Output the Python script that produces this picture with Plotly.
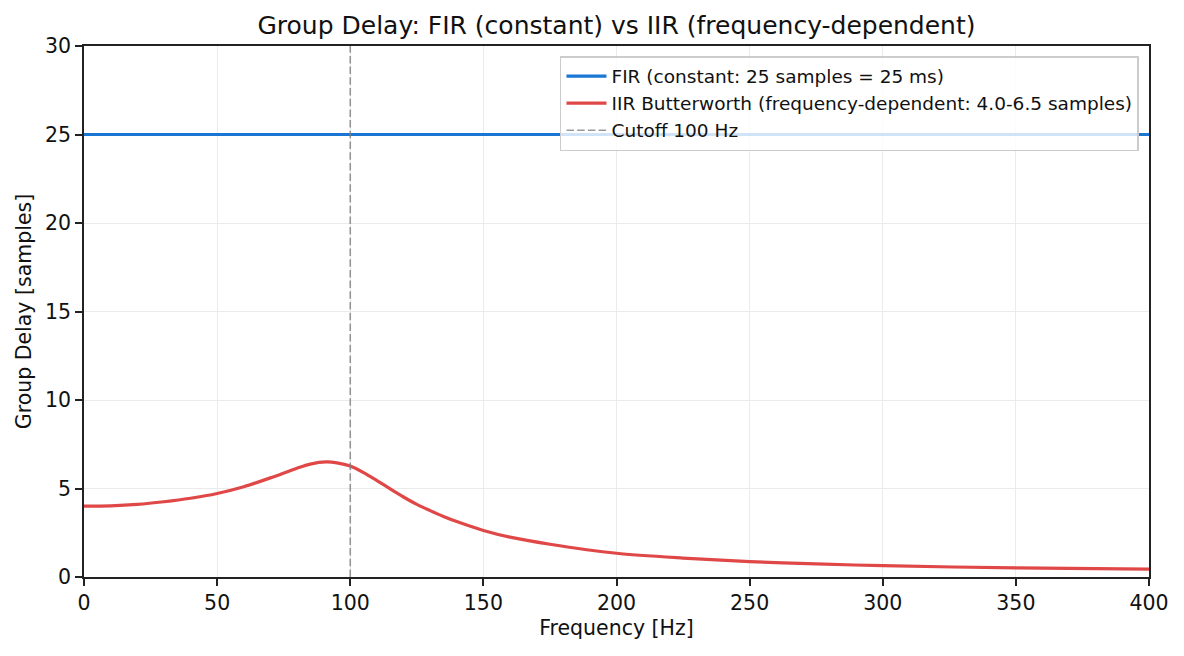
import plotly.graph_objects as go

# Data
freq_fir = [0, 400]
delay_fir = [25, 25]

freq_iir = [0, 10, 20, 30, 40, 50, 60, 70, 80, 85, 91, 95, 100, 105, 110, 115, 120, 125,
            130, 135, 140, 150, 160, 175, 200, 225, 250, 275, 300, 350, 400]
delay_iir = [4.0, 4.02, 4.1, 4.25, 4.45, 4.72, 5.1, 5.6, 6.15, 6.38, 6.5, 6.45, 6.27, 5.9,
             5.45, 4.98, 4.52, 4.1, 3.75, 3.42, 3.13, 2.63, 2.25, 1.85, 1.34, 1.07, 0.87,
             0.74, 0.64, 0.51, 0.45]

cutoff = 100
x_ticks = [0, 50, 100, 150, 200, 250, 300, 350, 400]
y_ticks = [0, 5, 10, 15, 20, 25, 30]

FONT = "DejaVu Sans"
TXT = "#111111"

fig = go.Figure()
fig.add_trace(go.Scatter(x=freq_fir, y=delay_fir, mode="lines",
                         line=dict(color="#1976D2", width=3.2),
                         name="FIR (constant: 25 samples = 25 ms)"))
fig.add_trace(go.Scatter(x=freq_iir, y=delay_iir, mode="lines",
                         line=dict(color="#E04848", width=3.2, shape="spline", smoothing=0.8),
                         name="IIR Butterworth (frequency-dependent: 4.0-6.5 samples)"))
fig.add_trace(go.Scatter(x=[cutoff, cutoff], y=[0, 30], mode="lines",
                         line=dict(color="rgba(128,128,128,0.8)", width=1.6, dash="7.5px,3.2px"),
                         name="Cutoff 100 Hz"))

axis_common = dict(showline=True, linecolor="#222222", linewidth=1.6, mirror=True,
                   ticks="outside", ticklen=7, tickwidth=1.6, tickcolor="#222222",
                   showgrid=True, gridcolor="#ebebeb", gridwidth=1.4, zeroline=False,
                   tickfont=dict(family=FONT, size=20.5, color=TXT))

fig.update_layout(
    width=1184, height=656,
    margin=dict(l=84, r=35, t=46, b=79),
    paper_bgcolor="white", plot_bgcolor="white",
    title=dict(text="Group Delay: FIR (constant) vs IIR (frequency-dependent)",
               x=(84 + 1149) / 2 / 1184, xanchor="center", y=1 - 25 / 656, yanchor="middle",
               font=dict(family=FONT, size=25, color=TXT)),
    xaxis=dict(range=[0, 400], tickvals=x_ticks,
               title=dict(text="Frequency [Hz]", font=dict(family=FONT, size=20.5, color=TXT),
                          standoff=6),
               **axis_common),
    yaxis=dict(range=[0, 30], tickvals=y_ticks,
               title=dict(text="Group Delay [samples]", font=dict(family=FONT, size=20.5, color=TXT),
                          standoff=8),
               **axis_common),
    legend=dict(x=0.9906, y=0.981, xanchor="right", yanchor="top",
                bgcolor="rgba(255,255,255,0.8)", bordercolor="#cccccc", borderwidth=1.5,
                font=dict(family=FONT, size=18.5, color=TXT),
                itemwidth=40),
    showlegend=True,
)

fig.write_html("out.html")
